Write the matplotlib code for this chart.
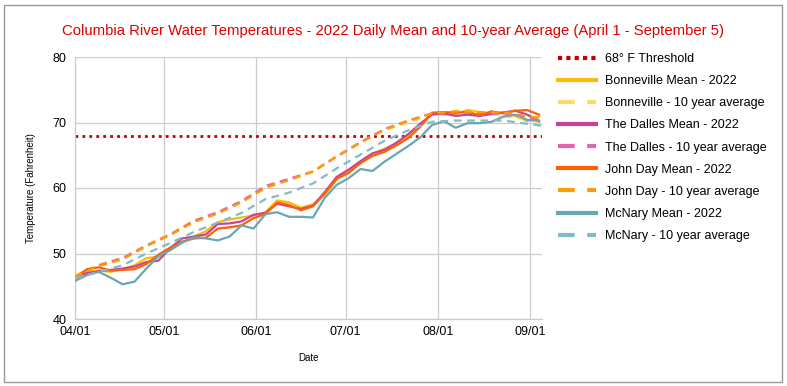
import matplotlib
matplotlib.use("Agg")
import matplotlib.pyplot as plt
import matplotlib.dates as mdates
import pandas as pd
from matplotlib.lines import Line2D
from matplotlib.patches import Rectangle

# ---- data ----------------------------------------------------------------
# 2022 daily means, sampled every 4 days from April 1
MEAN_DATES = pd.date_range("2022-04-01", periods=40, freq="4D")
BONNEVILLE_2022 = [46.0, 47.2, 47.4, 47.2, 47.6, 48.2, 49.3, 49.5, 50.6, 51.6,
                   52.6, 53.4, 54.8, 55.2, 55.5, 55.8, 56.3, 58.1, 57.8, 57.0,
                   57.5, 59.0, 61.3, 62.7, 64.0, 65.2, 66.0, 66.8, 68.0, 69.6,
                   71.4, 71.2, 71.3, 71.9, 71.6, 71.2, 71.6, 71.0, 70.2, 70.9]
DALLES_2022 = [46.5, 47.0, 47.3, 47.5, 47.7, 48.0, 48.7, 48.9, 50.8, 52.3,
               52.6, 52.9, 54.5, 54.6, 54.9, 55.9, 56.2, 57.6, 57.2, 56.8,
               57.3, 59.4, 61.7, 62.8, 64.1, 65.3, 65.8, 66.9, 68.2, 69.8,
               71.2, 71.4, 71.0, 71.2, 71.0, 71.3, 71.5, 71.8, 71.2, 70.2]
JOHN_DAY_2022 = [46.3, 47.6, 47.9, 47.4, 47.5, 47.6, 48.4, 49.8, 50.9, 51.8,
                 52.3, 52.4, 53.8, 54.0, 54.3, 55.4, 56.0, 57.8, 57.4, 56.6,
                 57.2, 59.2, 61.4, 62.3, 63.8, 64.9, 65.5, 66.5, 67.6, 69.3,
                 71.5, 71.6, 71.5, 71.6, 71.1, 71.7, 71.4, 71.8, 71.9, 71.2]
MCNARY_2022 = [45.8, 46.7, 47.2, 46.3, 45.3, 45.7, 47.7, 49.6, 50.5, 51.7,
               52.5, 52.3, 52.0, 52.6, 54.3, 53.8, 56.0, 56.3, 55.6, 55.6,
               55.5, 58.5, 60.5, 61.5, 62.9, 62.6, 64.0, 65.2, 66.4, 67.7,
               69.6, 70.2, 69.2, 69.9, 69.9, 70.1, 70.9, 71.2, 70.4, 70.3]

# 10-year averages
AVG_DATES = pd.to_datetime([
    "2022-04-01", "2022-04-09", "2022-04-17", "2022-04-25", "2022-05-03",
    "2022-05-11", "2022-05-19", "2022-05-27", "2022-06-04", "2022-06-12",
    "2022-06-20", "2022-06-28", "2022-07-06", "2022-07-14", "2022-07-22",
    "2022-07-30", "2022-08-07", "2022-08-15", "2022-08-23", "2022-08-31",
    "2022-09-05"])
BONNEVILLE_AVG = [46.7, 48.3, 49.4, 51.3, 53.0, 55.0, 56.3, 58.0, 60.2, 61.4, 62.6,
                  64.9, 67.0, 68.8, 70.0, 71.2, 71.8, 71.5, 71.0, 70.4, 69.9]
DALLES_AVG = [46.4, 48.2, 49.3, 51.2, 52.9, 55.0, 56.3, 58.0, 60.3, 61.4, 62.5,
              64.8, 67.0, 69.0, 70.3, 71.4, 71.6, 71.4, 71.4, 70.9, 70.3]
JOHN_DAY_AVG = [46.5, 48.1, 49.1, 51.1, 52.8, 54.8, 56.1, 57.8, 60.0, 61.2, 62.5,
                64.8, 66.9, 68.9, 70.2, 71.4, 71.7, 71.6, 71.5, 71.0, 70.6]
MCNARY_AVG = [46.2, 47.2, 48.2, 50.0, 51.6, 53.3, 54.7, 56.2, 58.3, 59.3, 60.7,
              63.0, 65.1, 67.2, 68.8, 70.1, 70.3, 70.3, 70.3, 69.8, 69.5]

THRESHOLD = 68
Y_TICKS = [40, 50, 60, 70, 80]
X_TICKS = pd.to_datetime(["2022-04-01", "2022-05-01", "2022-06-01",
                          "2022-07-01", "2022-08-01", "2022-09-01"])

# ---- styling --------------------------------------------------------------
THRESH_COL = "#c00000"
DASH = (0, (3.5, 2.5))
SERIES = [
    ("Bonneville Mean - 2022",       MEAN_DATES, BONNEVILLE_2022, "#fbbc04", "-"),
    ("Bonneville - 10 year average", AVG_DATES,  BONNEVILLE_AVG,  "#ffd966", DASH),
    ("The Dalles Mean - 2022",       MEAN_DATES, DALLES_2022,     "#c8439b", "-"),
    ("The Dalles - 10 year average", AVG_DATES,  DALLES_AVG,      "#e563b2", DASH),
    ("John Day Mean - 2022",         MEAN_DATES, JOHN_DAY_2022,   "#ff5f05", "-"),
    ("John Day - 10 year average",   AVG_DATES,  JOHN_DAY_AVG,    "#ff9a0a", DASH),
    ("McNary Mean - 2022",           MEAN_DATES, MCNARY_2022,     "#6aa7b3", "-"),
    ("McNary - 10 year average",     AVG_DATES,  MCNARY_AVG,      "#80bcc7", DASH),
]

plt.rcParams["font.family"] = ["Liberation Sans", "DejaVu Sans"]

W, H = 787, 386
fig = plt.figure(figsize=(W / 100, H / 100), dpi=100)
ax = fig.add_axes([75 / W, 1 - 319 / H, (542 - 75) / W, (319 - 57) / H])

ax.axhline(THRESHOLD, color=THRESH_COL, lw=2, ls=(0, (1, 1.5)), zorder=2)
for label, dates, vals, col, ls in SERIES:
    ax.plot(dates, vals, color=col, lw=1.6, ls=ls, zorder=3)

ax.set_xlim(pd.Timestamp("2022-04-01"), pd.Timestamp("2022-09-05"))
ax.set_ylim(40, 80)
ax.set_yticks(Y_TICKS)
ax.set_xticks(X_TICKS)
ax.xaxis.set_major_formatter(mdates.DateFormatter("%m/%d"))
ax.tick_params(length=0, labelsize=9)
ax.tick_params(axis="x", pad=5)
ax.tick_params(axis="y", pad=6)
ax.grid(True, color="#cccccc", lw=0.9)
ax.set_axisbelow(True)
for s in ("top", "right"):
    ax.spines[s].set_visible(False)
for s in ("left", "bottom"):
    ax.spines[s].set_color("#cccccc")
    ax.spines[s].set_linewidth(0.9)

ax.set_ylabel("Temperature (Fahrenheit)", fontsize=7, labelpad=12)
ax.set_xlabel("Date", fontsize=7, labelpad=11)

fig.text(0.5 * (60 + 727) / W, 1 - 31 / H,
         "Columbia River Water Temperatures - 2022 Daily Mean and 10-year Average (April 1 - September 5)",
         ha="center", va="center", fontsize=10.7, color="#e00000")

handles = [Line2D([0], [0], color=THRESH_COL, lw=3, ls=(0, (1, 1)), label="68° F Threshold")]
for label, dates, vals, col, ls in SERIES:
    handles.append(Line2D([0], [0], color=col, lw=3,
                          ls=(0, (4, 3)) if ls != "-" else "-", label=label))
fig.legend(handles=handles, loc="upper left", bbox_to_anchor=(553 / W, 1 - 48 / H),
           frameon=False, fontsize=9, handlelength=3.0, handletextpad=0.75,
           labelspacing=0.81, borderaxespad=0)

fig.add_artist(Rectangle((4 / W, 4 / H), (782 - 4) / W, (381 - 4) / H,
                         transform=fig.transFigure, fill=False,
                         edgecolor="#999999", lw=1))

fig.savefig("out.png", dpi=100, facecolor="white")
